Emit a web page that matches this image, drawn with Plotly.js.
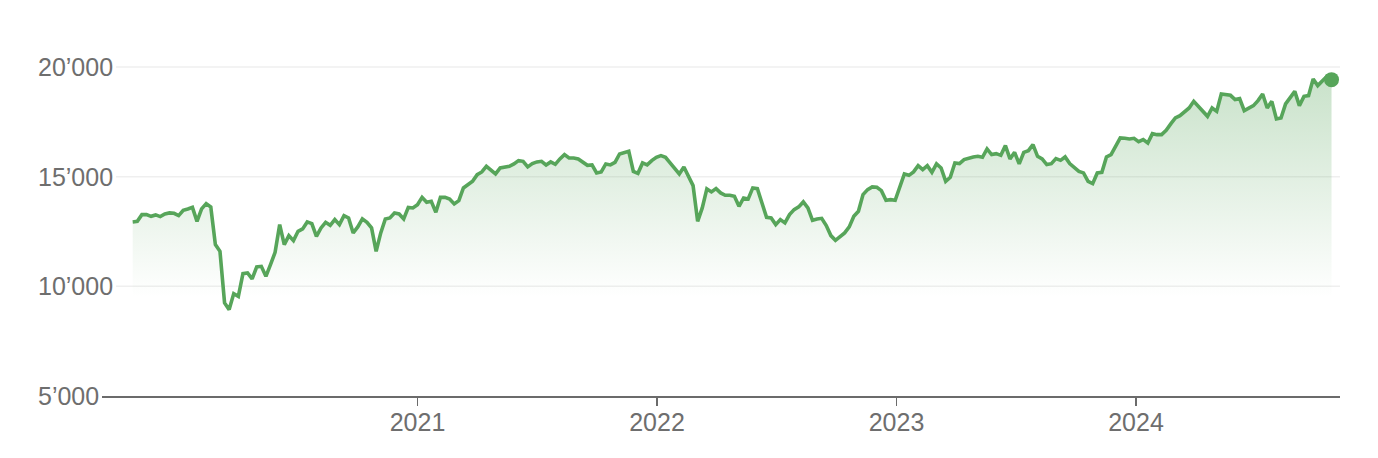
<!DOCTYPE html>
<html><head><meta charset="utf-8">
<script src="https://cdn.plot.ly/plotly-3.0.1.min.js"></script>
<style>html,body{margin:0;padding:0;background:#fff;} #chart{width:1378px;height:458px;}</style>
</head><body><div id="chart"></div>
<script>
// Weekly closing values (Fridays), first point 2019-10-25, last point 2024-10-25
const START_DATE = '2019-10-25';
const VALUES = [
12935,12962,13268,13268,13190,13254,13177,13300,13345,13327,
13222,13464,13528,13600,12962,13528,13769,13619,11900,11595,
9243,8938,9667,9544,10579,10611,10337,10884,10911,10456,
10989,11549,12812,11900,12311,12083,12507,12616,12935,12858,
12279,12662,12917,12780,13040,12812,13222,13117,12434,12707,
13072,12917,12662,11595,12434,13072,13117,13345,13300,13072,
13600,13573,13724,14056,13828,13874,
13373,14056,14056,13983,13756,13906,14485,14635,14786,15091,
15214,15469,15287,15123,15396,15424,15469,15579,15729,15697,
15442,15592,15670,15697,15533,15670,15561,15807,16003,15852,
15852,15807,15652,15515,15533,15169,15214,15579,15533,15652,
16035,16080,16153,15241,15150,15624,15533,15729,15880,15957,
15880,15624,15351,15123,15442,15014,14590,12962,13573,14439,
14302,14453,14257,14148,14148,
14102,13646,14029,13983,14485,14453,13801,13145,13117,12812,
13040,12890,13268,13496,13619,13847,13573,13008,13072,13099,
12767,12311,12096,12251,12434,12707,13190,13418,14179,14407,
14530,14512,14362,13920,13951,13920,14590,15123,15059,15214,
15501,15319,15501,15196,15579,15396,14786,14968,15624,15592,
15775,15852,15898,15925,15880,16262,16003,16048,15971,16413,
15807,16107,15579,16107,16185,
16458,15925,15807,15547,15592,15820,15743,15898,15592,15396,
15241,15169,14786,14681,15169,15196,15898,16003,16381,16764,
16746,16718,16746,16595,16686,16536,16960,16914,16914,17110,
17402,17675,17780,17931,18131,18432,18204,17949,17748,18131,
17976,18769,18737,18706,18510,18555,18008,18131,18236,18464,
18769,18131,18432,17630,17675,18314,18614,18888,18236,18660,
18692,19453,19148,19376,19572,19421
];
const X_TICK_VALS = ['2021-01-01','2022-01-01','2023-01-01','2024-01-01'];
const X_TICK_TEXT = ['2021','2022','2023','2024'];
const Y_TICK_VALS = [5000, 10000, 15000, 20000];
const Y_TICK_TEXT = ['5’000','10’000','15’000','20’000'];

function weeklyDates(start, n) {
  const out = [];
  const d0 = new Date(start + 'T00:00:00Z');
  for (let i = 0; i < n; i++) {
    const d = new Date(d0.getTime() + i * 7 * 86400000);
    out.push(d.toISOString().slice(0, 10));
  }
  return out;
}
const DATES = weeklyDates(START_DATE, VALUES.length);

const GREEN = 'rgb(87,165,90)';
const TEXT = '#6e6e6e';
const FONT = 'Liberation Sans, Arial, Helvetica, sans-serif';

const traces = [
  {
    x: DATES, y: VALUES, type: 'scatter', mode: 'lines',
    line: {color: GREEN, width: 3.6, shape: 'linear'},
    fill: 'tozeroy',
    fillgradient: {
      type: 'vertical', start: 9500, stop: 19500,
      colorscale: [[0, 'rgba(87,165,90,0)'], [1, 'rgba(87,165,90,0.32)']]
    },
    hoverinfo: 'skip', showlegend: false
  },
  {
    x: [DATES[DATES.length - 1]], y: [VALUES[VALUES.length - 1]],
    type: 'scatter', mode: 'markers',
    marker: {color: GREEN, size: 15},
    hoverinfo: 'skip', showlegend: false
  }
];

const shapes = Y_TICK_VALS.filter(v => v !== Y_TICK_VALS[0]).map(v => ({
  type: 'line', xref: 'paper', yref: 'y', x0: 0.0113, x1: 1, y0: v, y1: v,
  line: {color: '#efefef', width: 1.5}, layer: 'below'
}));

const annotations = Y_TICK_VALS.map((v, i) => ({
  xref: 'paper', yref: 'y', x: -0.0533, y: v, xanchor: 'left', yanchor: 'middle',
  text: Y_TICK_TEXT[i], showarrow: false,
  font: {family: FONT, size: 25, color: TEXT}
}));

const layout = {
  width: 1378, height: 458,
  margin: {l: 102, r: 38, t: 45, b: 62},
  paper_bgcolor: '#ffffff', plot_bgcolor: '#ffffff',
  font: {family: FONT, size: 25, color: TEXT},
  xaxis: {
    type: 'date',
    range: ['2019-09-08 05:00', '2024-11-06 22:00'],
    tickvals: X_TICK_VALS, ticktext: X_TICK_TEXT,
    showgrid: false, zeroline: false,
    showline: true, linecolor: '#6b6b6b', linewidth: 2,
    ticks: 'outside', ticklen: 8, tickwidth: 1.5, tickcolor: '#6b6b6b',
    ticklabelstandoff: -5,
    tickfont: {family: FONT, size: 25, color: TEXT},
    fixedrange: true
  },
  yaxis: {
    range: [5000, 21000],
    showgrid: false, zeroline: false, showline: false,
    showticklabels: false, ticks: '',
    fixedrange: true
  },
  shapes: shapes,
  annotations: annotations,
  showlegend: false
};

Plotly.newPlot('chart', traces, layout, {displayModeBar: false, staticPlot: true});
</script>
</body></html>
